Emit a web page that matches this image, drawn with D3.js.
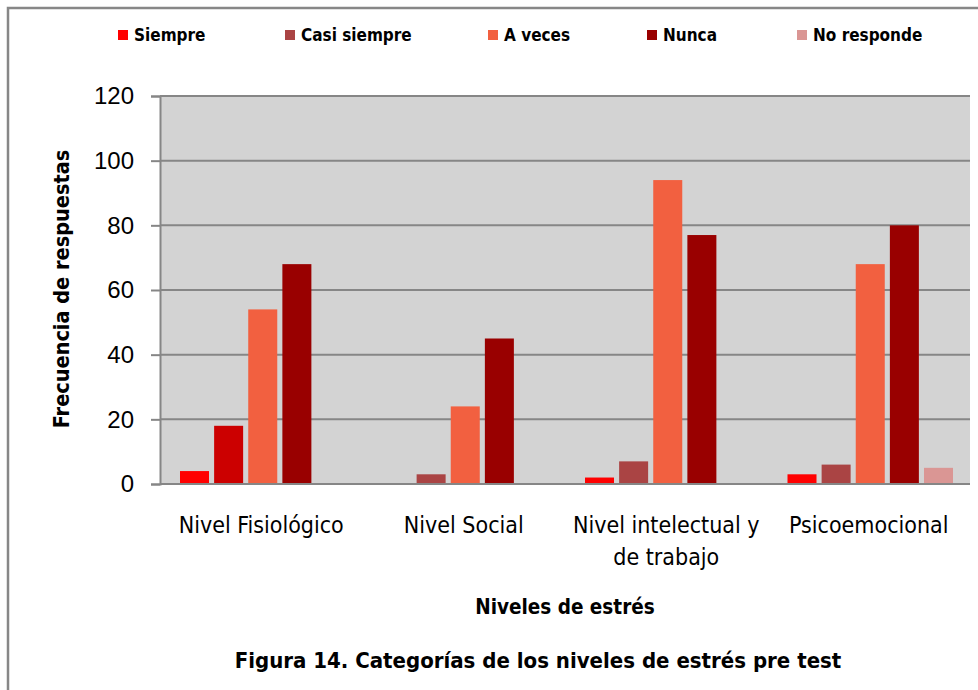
<!DOCTYPE html>
<meta charset="utf-8">
<style>
body { margin: 0; background: #fff; }
svg { display: block; font-family: "DejaVu Sans Condensed", "Open Sans", sans-serif; }
.grid line { stroke: #868686; stroke-width: 2; }
.axis path, .axis line { stroke: #868686; stroke-width: 2; }
.axis text { fill: #000; }
</style>
<svg width="978" height="690" class="top"></svg>
<script src="https://d3js.org/d3.v7.min.js"></script>
<script>

var categories = ["Nivel Fisiológico", "Nivel Social", "Nivel intelectual y de trabajo", "Psicoemocional"];
var seriesNames = ["Siempre", "Casi siempre", "A veces", "Nunca", "No responde"];
var siempre     = [4, 0, 2, 3];
var casiSiempre = [18, 3, 7, 6];
var aVeces      = [54, 24, 94, 68];
var nunca       = [68, 45, 77, 80];
var noResponde  = [0, 0, 0, 5];
var yTicks = [0, 20, 40, 60, 80, 100, 120];

var seriesValues = [siempre, casiSiempre, aVeces, nunca, noResponde];
var colors = ["#FF0000", "#AA4444", "#F26040", "#990000", "#DA9694"];
// the first group's "Casi siempre" bar has its own colour in the original
var pointColor = {"1-0": "#CC0000"};

var svg = d3.select(".top"),
    margin = {top: 96, right: 8, bottom: 206, left: 160},
    width = +svg.attr("width") - margin.left - margin.right,
    height = +svg.attr("height") - margin.top - margin.bottom;

// outer frame (only top and left edges are visible)
svg.append("path")
    .attr("d", "M8,690 V8 H978")
    .attr("fill", "none")
    .attr("stroke", "#878787")
    .attr("stroke-width", 2.5);

var g = svg.append("g").attr("transform", "translate(" + margin.left + "," + margin.top + ")");

var x0 = d3.scaleBand()
    .domain(categories)
    .range([0, width])
    .paddingInner(0)
    .paddingOuter(0);

var x1 = d3.scaleBand()
    .domain(seriesNames)
    .range([20, x0.bandwidth() - 17])
    .paddingInner(0.15);

var y = d3.scaleLinear()
    .domain([0, 120])
    .range([height, 0]);

g.append("rect")
    .attr("width", width)
    .attr("height", height)
    .attr("fill", "#D3D3D3");

g.append("g")
    .attr("class", "grid")
  .selectAll("line")
  .data(yTicks.slice(1))
  .enter().append("line")
    .attr("x1", 0)
    .attr("x2", width)
    .attr("y1", function(d) { return y(d); })
    .attr("y2", function(d) { return y(d); });

var groups = g.selectAll(".group")
  .data(categories)
  .enter().append("g")
    .attr("class", "group")
    .attr("transform", function(d) { return "translate(" + x0(d) + ",0)"; });

groups.selectAll("rect")
  .data(function(d, i) {
    return seriesNames.map(function(s, j) { return {series: s, si: j, ci: i, value: seriesValues[j][i]}; });
  })
  .enter().append("rect")
    .attr("x", function(d) { return x1(d.series); })
    .attr("y", function(d) { return y(d.value); })
    .attr("width", x1.bandwidth())
    .attr("height", function(d) { return y(0) - y(d.value); })
    .attr("fill", function(d) { return pointColor[d.si + "-" + d.ci] || colors[d.si]; });

g.append("g")
    .attr("class", "axis axis--y")
    .call(d3.axisLeft(y).tickValues(yTicks).tickSize(9).tickPadding(17))
    .call(function(a) { a.selectAll("text").style("font-size", "24px"); });

g.append("line")
    .attr("x1", 0).attr("x2", width)
    .attr("y1", height).attr("y2", height)
    .attr("stroke", "#868686").attr("stroke-width", 2);

// category labels, wrapped like the original
var labelLines = [["Nivel Fisiológico"], ["Nivel Social"], ["Nivel intelectual y", "de trabajo"], ["Psicoemocional"]];
g.selectAll(".xlabel")
  .data(categories)
  .enter().append("text")
    .attr("class", "xlabel")
    .attr("x", function(d) { return x0(d) + x0.bandwidth() / 2; })
    .attr("y", height + 49)
    .attr("text-anchor", "middle")
    .style("font-size", "23px")
  .selectAll("tspan")
  .data(function(d, i) { return labelLines[i]; })
  .enter().append("tspan")
    .attr("x", function() { return d3.select(this.parentNode).attr("x"); })
    .attr("dy", function(d, i) { return i ? 32 : 0; })
    .text(function(d) { return d; });

g.append("text")
    .attr("x", width / 2)
    .attr("y", height + 130)
    .attr("text-anchor", "middle")
    .style("font-size", "20.5px")
    .style("font-weight", "bold")
    .text("Niveles de estrés");

svg.append("text")
    .attr("transform", "translate(69,289) rotate(-90)")
    .attr("text-anchor", "middle")
    .style("font-size", "21.5px")
    .style("font-weight", "bold")
    .text("Frecuencia de respuestas");

svg.append("text")
    .attr("x", 538)
    .attr("y", 668)
    .attr("text-anchor", "middle")
    .style("font-size", "22px")
    .style("font-weight", "bold")
    .text("Figura 14. Categorías de los niveles de estrés pre test");

// legend
var legendX = [118, 285, 488, 647, 797];
var legend = svg.selectAll(".legend")
  .data(seriesNames)
  .enter().append("g")
    .attr("class", "legend")
    .attr("transform", function(d, i) { return "translate(" + legendX[i] + ",35)"; });

legend.append("rect")
    .attr("y", -5)
    .attr("width", 10)
    .attr("height", 10)
    .attr("fill", function(d, i) { return colors[i]; });

legend.append("text")
    .attr("x", 16)
    .attr("dy", "0.35em")
    .style("font-size", "17px")
    .style("font-weight", "bold")
    .text(function(d) { return d; });

</script>
